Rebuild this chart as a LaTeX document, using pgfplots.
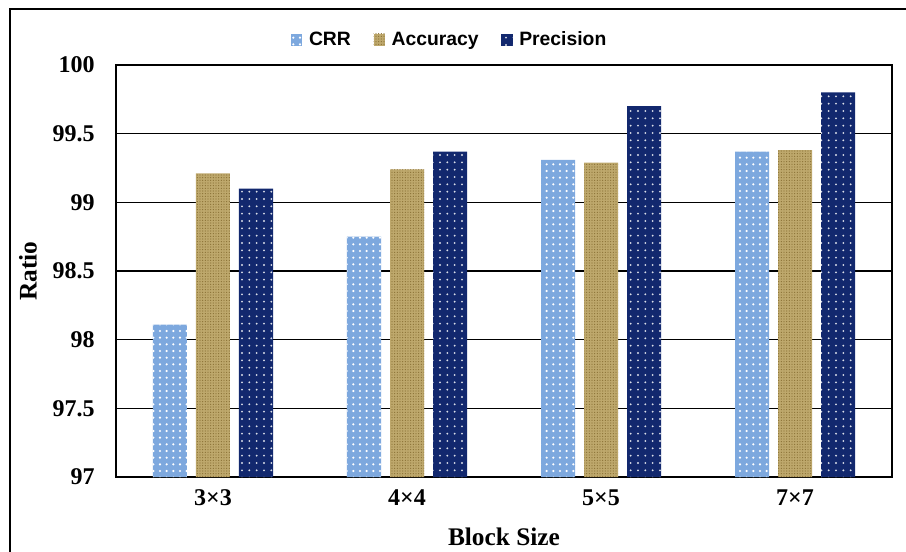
\documentclass[border=0pt]{standalone}
\usepackage{fontspec}
\setmainfont{Liberation Serif}
\newfontfamily\legfont{Liberation Sans}
\usepackage{pgfplots}
\pgfplotsset{compat=1.18}
\usetikzlibrary{patterns.meta}
\definecolor{crr}{RGB}{125,168,222}
\definecolor{acc}{RGB}{190,168,108}
\definecolor{accd}{RGB}{140,115,55}
\definecolor{prec}{RGB}{18,40,110}
\begin{document}
\begin{tikzpicture}[x=0.75pt,y=0.75pt]
\useasboundingbox (-116,-74) rectangle (790,477);
\draw[line width=1.6pt] (-106,-80) -- (-106,468) -- (800,468);
\begin{axis}[
  at={(0,0)}, anchor=south west,
  scale only axis, width=582pt, height=309pt,
  ybar=6.75pt, bar width=25.5pt,
  xmin=-0.5, xmax=3.5, ymin=97, ymax=100,
  xtick={0,1,2,3}, xticklabels={\textbf{3×3},\textbf{4×4},\textbf{5×5},\textbf{7×7}},
  ytick={97,97.5,98,98.5,99,99.5,100},
  yticklabels={97,97.5,98,98.5,99,99.5,100},
  /pgf/number format/assume math mode=true,
  major tick length=0pt,
  ymajorgrids, grid style={black, line width=0.9pt},
  axis line style={black, line width=1pt},
  tick label style={font=\fontsize{18}{20}\selectfont\bfseries},
  yticklabel style={xshift=-12.5pt},
  xticklabel style={yshift=-6pt},
  xlabel={Block Size}, ylabel={Ratio},
  every axis y label/.style={at={(axis description cs:-0.1134,0.5)}, rotate=90, anchor=center, font=\fontsize{19}{22}\selectfont\bfseries},
  every axis x label/.style={at={(axis description cs:0.5,-0.146)}, anchor=center, font=\fontsize{19}{22}\selectfont\bfseries},
  legend style={at={(axis description cs:0.4304,1.0607)}, anchor=center, draw=none, fill=none,
    legend columns=3, font=\legfont\fontsize{14.5}{16}\selectfont\bfseries,
    /tikz/every odd column/.append style={column sep=3pt},
    /tikz/every even column/.append style={column sep=15pt}},
  legend image code/.code={\draw[#1, draw=none] (0pt,-4.5pt) rectangle (8.5pt,4.5pt);},
]
\addplot[draw=none, fill=crr, postaction={pattern={Dots[distance=5pt, radius=0.9pt]}, pattern color=white}]
  coordinates {(0,98.11) (1,98.75) (2,99.31) (3,99.37)};
\addplot[draw=none, fill=acc, postaction={pattern={Dots[distance=2pt, radius=0.45pt]}, pattern color=accd}]
  coordinates {(0,99.21) (1,99.24) (2,99.29) (3,99.38)};
\addplot[draw=none, fill=prec, postaction={pattern={Dots[distance=5.5pt, radius=0.8pt]}, pattern color=white!85!prec}]
  coordinates {(0,99.10) (1,99.37) (2,99.70) (3,99.80)};
\legend{CRR, Accuracy, Precision}
\end{axis}
\end{tikzpicture}
\end{document}
